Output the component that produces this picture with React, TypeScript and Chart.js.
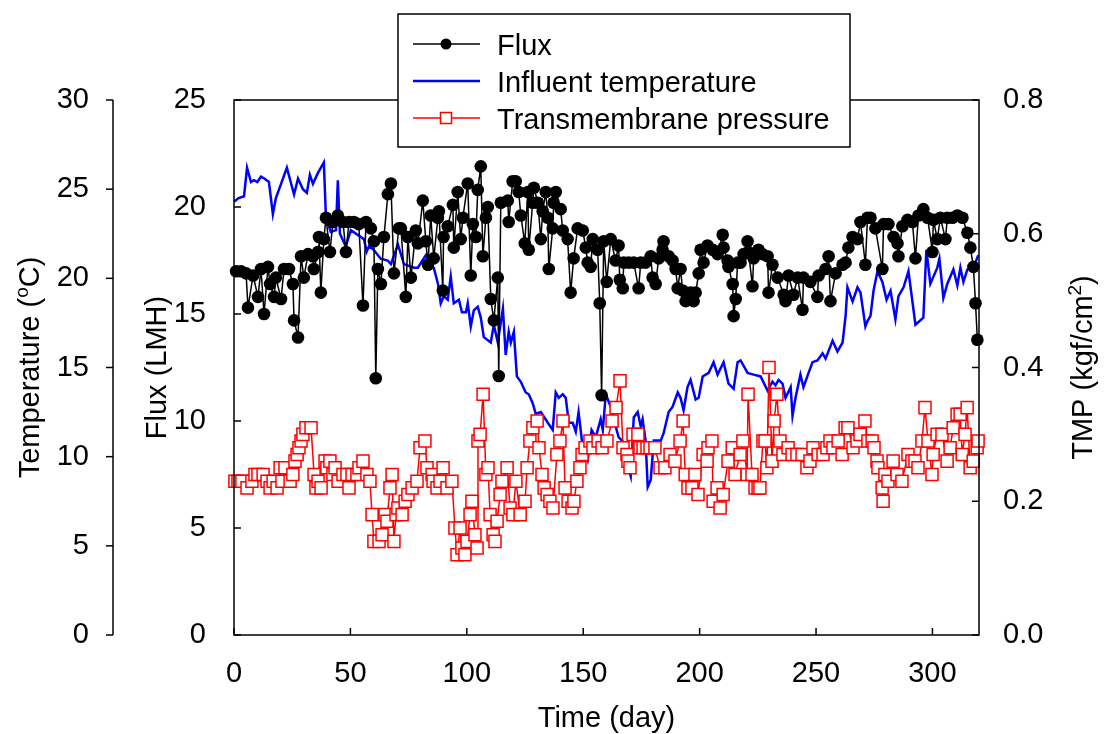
import React, { useEffect, useRef } from "react";
import { Chart, registerables } from "chart.js";

Chart.register(...registerables);

const fluxDays = [0.9, 3.0, 5.2, 6.0, 8.2, 10.3, 11.6, 12.9, 14.6, 15.5, 17.2, 18.0, 20.2, 21.5, 23.6, 25.3, 25.8, 27.5, 28.8, 30.0, 31.8, 33.9, 34.3, 36.1, 36.5, 37.3, 38.6, 39.5, 41.2, 42.5, 44.6, 46.8, 48.1, 49.4, 51.5, 53.6, 55.4, 56.7, 58.8, 60.1, 60.9, 61.8, 63.1, 64.4, 66.1, 67.4, 68.7, 70.8, 71.7, 73.8, 74.7, 76.0, 78.1, 79.0, 81.1, 82.4, 83.3, 84.5, 85.8, 87.6, 88.0, 89.7, 90.0, 91.8, 94.0, 94.4, 96.1, 97.4, 98.3, 100.4, 101.7, 102.6, 103.9, 104.7, 106.0, 106.9, 108.2, 109.0, 110.3, 111.6, 113.3, 113.7, 114.6, 117.6, 118.0, 119.7, 121.0, 122.3, 123.2, 124.9, 126.2, 126.6, 128.3, 128.8, 130.5, 131.8, 132.6, 133.9, 134.8, 135.2, 136.9, 137.3, 138.2, 140.3, 141.2, 143.3, 144.6, 145.9, 147.6, 149.8, 151.1, 151.9, 153.2, 154.1, 156.2, 157.1, 157.9, 158.8, 160.1, 161.8, 163.9, 165.2, 165.7, 167.0, 167.4, 169.5, 171.7, 173.8, 174.7, 176.8, 179.0, 179.8, 181.1, 182.4, 184.1, 184.5, 186.7, 188.4, 189.7, 190.6, 191.8, 192.7, 194.0, 194.8, 196.1, 197.4, 198.3, 199.6, 200.4, 201.7, 203.4, 205.6, 207.7, 209.9, 210.3, 212.0, 212.4, 214.2, 214.6, 215.5, 216.3, 217.6, 218.9, 220.6, 221.0, 222.7, 223.2, 225.3, 227.0, 229.2, 229.6, 231.3, 233.5, 236.1, 236.9, 238.2, 240.3, 242.1, 244.2, 244.6, 247.6, 250.6, 251.1, 254.1, 255.4, 256.2, 258.4, 261.4, 262.7, 263.9, 265.7, 267.8, 269.1, 271.2, 272.1, 273.4, 275.5, 278.5, 279.0, 281.1, 283.3, 285.0, 285.4, 287.1, 289.3, 291.4, 292.7, 294.0, 296.1, 297.9, 300.0, 300.4, 302.1, 303.4, 305.6, 306.4, 308.6, 310.7, 312.9, 315.0, 316.3, 317.6, 318.5, 319.3];
const fluxValues = [17.0, 17.0, 16.9, 15.3, 16.8, 15.8, 17.1, 15.0, 17.2, 16.4, 15.8, 16.7, 15.7, 17.1, 17.1, 16.4, 14.7, 13.9, 17.7, 16.7, 17.8, 17.7, 17.1, 17.9, 18.6, 16.0, 18.5, 19.5, 17.9, 19.3, 19.6, 19.3, 17.9, 19.3, 19.3, 19.2, 15.4, 19.3, 19.0, 18.4, 12.0, 17.1, 16.4, 18.6, 20.6, 21.1, 16.9, 19.0, 19.0, 15.8, 18.6, 16.7, 18.9, 18.3, 20.3, 18.4, 17.3, 19.6, 17.6, 19.5, 19.8, 16.1, 18.6, 19.1, 20.1, 18.1, 20.7, 18.5, 19.5, 21.1, 16.8, 19.2, 18.6, 20.8, 21.9, 17.7, 19.5, 20.0, 15.7, 14.7, 16.7, 12.1, 20.2, 20.3, 19.3, 21.2, 21.2, 20.7, 19.6, 18.3, 20.7, 18.0, 20.2, 20.9, 20.2, 18.5, 19.8, 20.7, 19.5, 17.1, 19.0, 20.2, 20.7, 19.9, 18.9, 18.5, 16.0, 17.6, 19.0, 18.9, 18.1, 17.4, 17.2, 18.5, 18.0, 15.5, 11.2, 18.4, 16.5, 18.5, 17.5, 18.2, 16.6, 16.2, 17.4, 17.4, 17.4, 16.2, 17.4, 17.4, 17.7, 16.7, 16.4, 17.6, 18.0, 18.4, 17.7, 17.5, 17.1, 16.2, 17.1, 16.1, 15.6, 15.8, 16.0, 15.6, 16.0, 16.9, 18.0, 17.4, 18.2, 18.0, 17.8, 18.7, 18.1, 17.5, 17.2, 16.4, 14.9, 15.7, 17.4, 17.4, 17.8, 18.4, 17.9, 16.3, 17.6, 18.0, 17.8, 17.7, 16.0, 17.3, 16.7, 15.9, 15.6, 16.8, 15.9, 16.7, 15.2, 16.7, 16.5, 15.8, 16.8, 17.1, 17.7, 15.6, 16.9, 17.3, 17.4, 18.1, 18.6, 18.5, 19.3, 17.3, 19.5, 19.5, 19.0, 17.1, 19.2, 19.2, 18.6, 18.3, 17.7, 19.1, 19.4, 19.3, 17.6, 19.6, 19.9, 19.5, 17.9, 19.4, 18.5, 19.5, 18.5, 19.5, 19.5, 19.6, 19.5, 18.8, 18.1, 17.2, 15.5, 13.8];

const tempDays = [0, 2, 4.3, 5.6, 7.3, 8.6, 10, 11.6, 13, 15, 16.7, 18, 20.2, 22.7, 25.8, 27.5, 29.6, 31.3, 32.6, 33.9, 36, 38.6, 39.5, 41.6, 43.8, 44.6, 45.5, 48, 50.2, 55.8, 57, 58, 60, 63, 66, 67.4, 70.4, 73, 77.3, 79, 82.4, 83.7, 85.8, 87.6, 88.8, 90.1, 91.8, 93.1, 94.4, 96.6, 97.9, 99.6, 100.4, 101.7, 103, 104.7, 106, 107.3, 110.3, 111.6, 113.3, 115.5, 116.7, 118, 118.9, 120.2, 121.5, 123.2, 125.3, 126.6, 128.3, 129.6, 131.8, 134.8, 136.9, 138.2, 139.5, 141.2, 142.5, 143.8, 145.5, 146.8, 148, 149.8, 151.9, 153.6, 155.4, 157.5, 158.4, 159.7, 161.8, 163.1, 165.2, 167.4, 169.5, 170.4, 171.7, 173.4, 174.7, 175.5, 176.8, 177.7, 179, 180.3, 183.3, 184.5, 186.7, 188.4, 190.6, 191.8, 193.1, 194.8, 196.1, 198.3, 199.6, 201.3, 203.9, 206, 207.7, 210.3, 212.4, 214.6, 216.3, 217.6, 220.6, 223.2, 226.2, 229.2, 231.3, 232.6, 233.9, 235.6, 236.9, 239.1, 239.9, 241.2, 243.3, 244.6, 246.8, 248.5, 250.6, 252.8, 254.1, 256.2, 257.1, 259.2, 261.4, 262.7, 263.5, 265.7, 267.8, 269.1, 271.2, 272.1, 273.4, 274.7, 276.4, 278.5, 280.3, 282, 284.1, 285.4, 287.6, 289.7, 292.7, 296.1, 297.4, 299.1, 302.1, 303, 304.7, 306.4, 309, 310.7, 312, 313.3, 315, 317.6, 319.7];
const tempValues = [24.3, 24.5, 24.6, 26.2, 25.4, 25.5, 25.4, 25.7, 25.6, 25.4, 23.6, 24.5, 25.3, 26.2, 24.7, 25.6, 25.0, 24.8, 25.8, 25.3, 25.9, 26.5, 23.4, 22.6, 22.7, 25.5, 22.5, 21.8, 22.7, 22.2, 21.5, 21.8, 21.6, 21.1, 21.0, 20.8, 21.9, 20.8, 20.6, 20.6, 21.3, 20.8, 20.6, 19.7, 18.6, 19.0, 18.8, 20.1, 18.6, 18.8, 18.1, 18.1, 18.6, 17.3, 18.2, 18.4, 17.8, 16.7, 16.4, 17.4, 16.4, 18.3, 15.7, 17.0, 16.4, 17.0, 14.5, 14.2, 13.6, 13.5, 13.0, 12.4, 12.5, 11.9, 11.5, 13.6, 13.3, 13.5, 13.3, 11.9, 11.9, 11.4, 12.5, 10.5, 9.8, 11.5, 11.1, 12.1, 11.5, 13.5, 12.8, 12.1, 11.1, 10.8, 9.3, 8.9, 12.2, 12.5, 11.7, 12.1, 10.9, 8.3, 8.7, 10.9, 10.9, 11.3, 12.5, 12.8, 13.6, 13.3, 12.6, 13.9, 14.3, 13.2, 13.3, 14.5, 14.7, 15.3, 14.6, 15.3, 14.1, 13.8, 15.3, 15.4, 14.7, 14.6, 14.5, 13.7, 14.2, 14.0, 14.3, 14.1, 13.3, 13.9, 12.3, 13.3, 14.6, 13.9, 14.7, 15.3, 15.4, 15.8, 15.5, 16.2, 16.5, 15.9, 16.4, 17.9, 19.5, 18.7, 19.5, 19.2, 17.3, 17.6, 17.9, 19.3, 20.4, 19.8, 18.8, 19.3, 17.7, 19.0, 19.5, 20.4, 17.4, 17.8, 21.6, 19.7, 20.6, 21.1, 18.9, 19.7, 20.5, 19.6, 20.6, 19.8, 20.5, 20.6, 21.3];

const tmpDays = [0.4, 1.7, 3.4, 5.6, 7.7, 9.0, 10.3, 12.5, 14.2, 15.5, 16.8, 18.5, 19.8, 20.6, 21.9, 24.1, 25.3, 26.2, 27.1, 27.9, 28.8, 29.6, 30.9, 33.1, 34.4, 35.2, 36.1, 37.4, 39.1, 39.9, 41.2, 42.5, 43.4, 44.7, 46.8, 48.5, 49.4, 50.7, 52.8, 53.7, 55.4, 57.1, 58.4, 59.3, 60.1, 62.3, 63.6, 64.9, 65.7, 67.0, 67.9, 68.7, 69.6, 70.4, 72.2, 73.5, 74.7, 76.5, 78.6, 79.9, 82.0, 82.9, 85.1, 85.5, 87.2, 88.5, 89.8, 91.5, 93.6, 94.9, 95.8, 97.1, 97.9, 99.2, 100.1, 101.4, 102.2, 103.5, 104.4, 104.8, 105.7, 107.0, 108.2, 109.1, 110.0, 111.3, 112.1, 113.0, 114.3, 115.1, 117.3, 118.6, 119.8, 121.1, 122.9, 125.0, 125.9, 127.1, 128.4, 130.2, 131.0, 132.3, 133.2, 134.5, 135.7, 137.0, 138.7, 140.0, 141.3, 142.2, 143.5, 145.2, 146.0, 147.3, 148.6, 149.5, 150.8, 152.9, 154.2, 156.4, 158.1, 160.2, 162.4, 164.1, 165.8, 167.1, 168.8, 169.2, 170.1, 171.4, 173.5, 174.4, 175.7, 177.4, 178.7, 180.8, 183.0, 185.1, 187.3, 189.4, 191.6, 192.9, 193.8, 195.0, 196.7, 198.0, 199.3, 201.5, 203.2, 203.6, 205.3, 205.8, 207.5, 208.8, 210.1, 212.2, 214.0, 215.2, 217.4, 218.6, 220.4, 220.8, 222.5, 223.8, 225.1, 225.9, 227.2, 228.1, 228.9, 229.8, 231.1, 232.0, 233.2, 234.5, 235.8, 238.0, 239.7, 241.8, 244.0, 246.1, 247.4, 248.7, 250.9, 253.0, 254.7, 256.0, 257.3, 259.5, 261.2, 262.5, 263.7, 265.9, 267.6, 268.9, 271.0, 272.3, 274.1, 274.9, 276.2, 276.6, 278.4, 278.8, 279.6, 280.9, 283.1, 284.8, 286.9, 289.5, 291.2, 292.5, 293.8, 295.5, 296.8, 298.1, 299.8, 300.3, 302.0, 304.1, 306.3, 307.6, 308.9, 310.6, 311.9, 312.8, 314.0, 314.9, 316.2, 317.5, 319.2, 319.6];
const tmpValues = [0.23, 0.23, 0.23, 0.22, 0.23, 0.24, 0.24, 0.24, 0.23, 0.22, 0.23, 0.22, 0.25, 0.23, 0.25, 0.23, 0.24, 0.26, 0.27, 0.28, 0.29, 0.30, 0.31, 0.31, 0.24, 0.22, 0.23, 0.22, 0.26, 0.25, 0.26, 0.24, 0.25, 0.23, 0.24, 0.24, 0.22, 0.24, 0.24, 0.25, 0.26, 0.24, 0.23, 0.18, 0.14, 0.14, 0.15, 0.18, 0.17, 0.22, 0.24, 0.14, 0.18, 0.19, 0.18, 0.20, 0.21, 0.22, 0.23, 0.28, 0.29, 0.25, 0.24, 0.23, 0.22, 0.23, 0.25, 0.22, 0.23, 0.16, 0.12, 0.16, 0.13, 0.12, 0.14, 0.18, 0.20, 0.15, 0.13, 0.29, 0.30, 0.36, 0.24, 0.25, 0.18, 0.15, 0.14, 0.17, 0.21, 0.23, 0.25, 0.19, 0.18, 0.23, 0.18, 0.20, 0.25, 0.29, 0.31, 0.32, 0.28, 0.24, 0.22, 0.21, 0.20, 0.19, 0.27, 0.29, 0.32, 0.22, 0.20, 0.19, 0.20, 0.23, 0.25, 0.27, 0.28, 0.29, 0.28, 0.29, 0.28, 0.29, 0.32, 0.34, 0.38, 0.28, 0.27, 0.26, 0.25, 0.30, 0.30, 0.28, 0.28, 0.28, 0.28, 0.28, 0.25, 0.25, 0.27, 0.26, 0.29, 0.32, 0.24, 0.22, 0.22, 0.24, 0.21, 0.27, 0.26, 0.28, 0.29, 0.20, 0.22, 0.19, 0.21, 0.26, 0.28, 0.24, 0.27, 0.29, 0.24, 0.36, 0.24, 0.22, 0.22, 0.22, 0.29, 0.29, 0.25, 0.40, 0.26, 0.32, 0.36, 0.29, 0.27, 0.28, 0.27, 0.27, 0.27, 0.25, 0.26, 0.28, 0.27, 0.27, 0.28, 0.29, 0.28, 0.29, 0.27, 0.31, 0.31, 0.28, 0.29, 0.30, 0.32, 0.29, 0.29, 0.28, 0.26, 0.25, 0.22, 0.20, 0.24, 0.23, 0.26, 0.24, 0.23, 0.27, 0.26, 0.26, 0.25, 0.29, 0.34, 0.29, 0.24, 0.27, 0.30, 0.30, 0.26, 0.28, 0.31, 0.33, 0.33, 0.27, 0.30, 0.34, 0.25, 0.26, 0.28, 0.29];

const xTicks = [0, 50, 100, 150, 200, 250, 300];
const tempTicks = [0, 5, 10, 15, 20, 25, 30];
const fluxTicks = [0, 5, 10, 15, 20, 25];
const tmpTicks = [0, 0.2, 0.4, 0.6, 0.8];
const legendLabels = ["Flux", "Influent temperature", "Transmembrane pressure"];

const FAMILY = '"Liberation Sans", Arial, Helvetica, sans-serif';
const FS = 29;
const SUP = 19;

type Part = { t: string; sup?: boolean };

function drawRich(ctx: CanvasRenderingContext2D, parts: Part[], cx: number, baseY: number, rotated: boolean, baseX?: number) {
  ctx.save();
  let total = 0;
  const widths = parts.map((p) => {
    ctx.font = `${p.sup ? SUP : FS}px ${FAMILY}`;
    const w = ctx.measureText(p.t).width;
    total += w;
    return w;
  });
  if (rotated) {
    ctx.translate(baseX as number, cx);
    ctx.rotate(-Math.PI / 2);
  } else {
    ctx.translate(cx, baseY);
  }
  ctx.textBaseline = "alphabetic";
  ctx.textAlign = "left";
  ctx.fillStyle = "#000";
  let x = -total / 2;
  parts.forEach((p, i) => {
    ctx.font = `${p.sup ? SUP : FS}px ${FAMILY}`;
    ctx.fillText(p.t, x, p.sup ? -11 : 0);
    x += widths[i];
  });
  ctx.restore();
}

const decor = {
  id: "decor",
  afterDraw(chart: any) {
    const ctx: CanvasRenderingContext2D = chart.ctx;
    const { left, right, top, bottom } = chart.chartArea;
    const sx = chart.scales.x;
    const st = chart.scales.yTemp;
    const sf = chart.scales.yFlux;
    const sp = chart.scales.yTmp;
    const line = (x1: number, y1: number, x2: number, y2: number) => {
      ctx.beginPath();
      ctx.moveTo(x1, y1);
      ctx.lineTo(x2, y2);
      ctx.stroke();
    };
    ctx.save();
    ctx.strokeStyle = "#000";
    ctx.lineWidth = 1.5;
    ctx.strokeRect(left, top, right - left, bottom - top);
    const tx = st.right;
    line(tx, top, tx, bottom);
    tempTicks.forEach((v) => {
      const y = st.getPixelForValue(v);
      line(tx - 7, y, tx, y);
    });
    fluxTicks.forEach((v) => {
      const y = sf.getPixelForValue(v);
      line(left, y, left + 7, y);
    });
    tmpTicks.forEach((v) => {
      const y = sp.getPixelForValue(v);
      line(right - 7, y, right, y);
    });
    xTicks.forEach((v) => {
      const x = sx.getPixelForValue(v);
      line(x, bottom, x, bottom - 7);
    });

    const midY = (top + bottom) / 2;
    drawRich(ctx, [{ t: "Time (day)" }], (left + right) / 2, 727, false);
    drawRich(ctx, [{ t: "Temperature (" }, { t: "o", sup: true }, { t: "C)" }], midY, 0, true, 38.5);
    drawRich(ctx, [{ t: "Flux (LMH)" }], midY, 0, true, 165.5);
    drawRich(ctx, [{ t: "TMP (kgf/cm" }, { t: "2", sup: true }, { t: ")" }], midY, 0, true, 1091.5);

    // legend
    const bx = 398, by = 14, bw = 452, bh = 133;
    ctx.fillStyle = "#fff";
    ctx.fillRect(bx, by, bw, bh);
    ctx.lineWidth = 1.5;
    ctx.strokeStyle = "#000";
    ctx.strokeRect(bx, by, bw, bh);
    const rows = [44, 81, 118];
    const colors = ["#000000", "#0000ff", "#ff0000"];
    const widthsL = [1.5, 2.5, 1.5];
    rows.forEach((ry, i) => {
      ctx.strokeStyle = colors[i];
      ctx.lineWidth = widthsL[i];
      line(413, ry, 480, ry);
      if (i === 0) {
        ctx.fillStyle = "#000";
        ctx.beginPath();
        ctx.arc(446, ry, 5.5, 0, Math.PI * 2);
        ctx.fill();
      } else if (i === 2) {
        ctx.fillStyle = "#fff";
        ctx.fillRect(440.5, ry - 5.5, 11, 11);
        ctx.lineWidth = 1.5;
        ctx.strokeRect(440.5, ry - 5.5, 11, 11);
      }
      ctx.fillStyle = "#000";
      ctx.font = `${FS}px ${FAMILY}`;
      ctx.textAlign = "left";
      ctx.textBaseline = "alphabetic";
      ctx.fillText(legendLabels[i], 497, ry + 10.5);
    });
    ctx.restore();
  },
};

export default function App() {
  const ref = useRef<HTMLCanvasElement | null>(null);
  useEffect(() => {
    if (!ref.current) return;
    const font = { family: FAMILY, size: FS };
    const chart = new Chart(ref.current, {
      type: "scatter",
      data: {
        datasets: [
          {
            label: legendLabels[0],
            data: fluxDays.map((d, i) => ({ x: d, y: fluxValues[i] })),
            yAxisID: "yFlux",
            showLine: true,
            borderColor: "#000000",
            borderWidth: 1.5,
            pointRadius: 6.3,
            pointBackgroundColor: "#000000",
            pointBorderColor: "#000000",
            pointBorderWidth: 0,
            clip: false,
          },
          {
            label: legendLabels[2],
            data: tmpDays.map((d, i) => ({ x: d, y: tmpValues[i] })),
            yAxisID: "yTmp",
            showLine: true,
            borderColor: "#ff0000",
            borderWidth: 1.5,
            pointStyle: "rect",
            pointRadius: 8.5,
            pointBackgroundColor: "#ffffff",
            pointBorderColor: "#ff0000",
            pointBorderWidth: 1.5,
            clip: false,
          },
          {
            label: legendLabels[1],
            data: tempDays.map((d, i) => ({ x: d, y: tempValues[i] })),
            yAxisID: "yTemp",
            showLine: true,
            borderColor: "#0000ff",
            borderWidth: 2.5,
            pointRadius: 0,
            clip: false,
          },
        ] as any,
      },
      options: {
        animation: false,
        responsive: false,
        events: [],
        layout: { padding: { top: 100, left: 0, right: 0, bottom: 0 } },
        plugins: { legend: { display: false }, tooltip: { enabled: false } },
        scales: {
          x: {
            type: "linear",
            position: "bottom",
            min: 0,
            max: 320,
            grid: { display: false },
            border: { display: false },
            afterBuildTicks: (s: any) => {
              s.ticks = xTicks.map((v) => ({ value: v }));
            },
            afterFit: (s: any) => {
              s.height = 99;
            },
            ticks: { font, color: "#000", padding: 14, maxRotation: 0, minRotation: 0, autoSkip: false },
          },
          yFlux: {
            type: "linear",
            position: "left",
            weight: 0,
            min: 0,
            max: 25,
            grid: { display: false },
            border: { display: false },
            afterBuildTicks: (s: any) => {
              s.ticks = fluxTicks.map((v) => ({ value: v }));
            },
            afterFit: (s: any) => {
              s.width = 121;
            },
            ticks: { font, color: "#000", padding: 20 },
          },
          yTemp: {
            type: "linear",
            position: "left",
            weight: 1,
            min: 0,
            max: 30,
            grid: { display: false },
            border: { display: false },
            afterBuildTicks: (s: any) => {
              s.ticks = tempTicks.map((v) => ({ value: v }));
            },
            afterFit: (s: any) => {
              s.width = 113;
            },
            ticks: { font, color: "#000", padding: 16 },
          },
          yTmp: {
            type: "linear",
            position: "right",
            min: 0,
            max: 0.8,
            grid: { display: false },
            border: { display: false },
            afterBuildTicks: (s: any) => {
              s.ticks = tmpTicks.map((v) => ({ value: v }));
            },
            afterFit: (s: any) => {
              s.width = 125;
            },
            ticks: { font, color: "#000", padding: 16, callback: (v: any) => Number(v).toFixed(1) },
          },
        },
      } as any,
      plugins: [decor],
    });
    return () => chart.destroy();
  }, []);
  return (
    <div style={{ position: "absolute", left: 0, top: 0, width: 1104, height: 734, background: "#fff" }}>
      <canvas ref={ref} width={1104} height={734} style={{ width: 1104, height: 734, display: "block" }} />
    </div>
  );
}
